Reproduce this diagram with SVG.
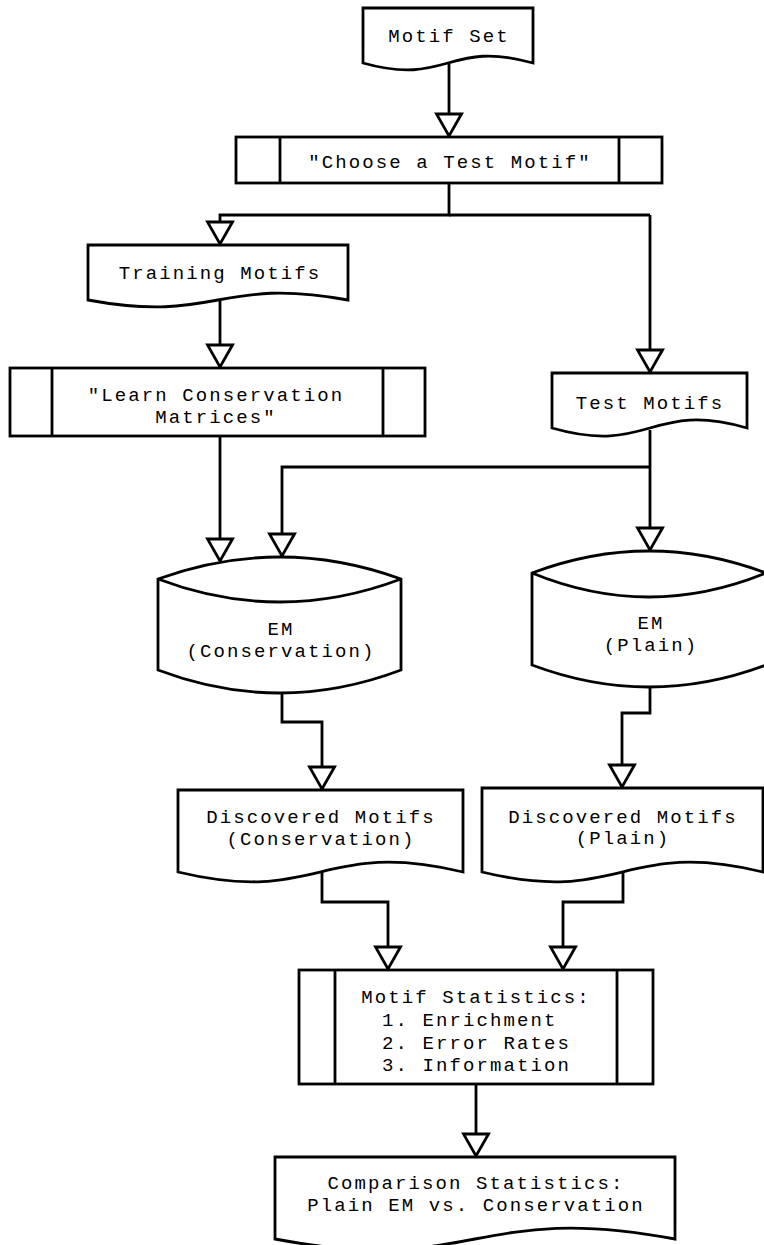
<svg xmlns="http://www.w3.org/2000/svg" width="764" height="1245" viewBox="0 0 764 1245">
<style>
.n{fill:#fff;stroke:#000;stroke-width:2.8;stroke-linejoin:miter}
.l{fill:none;stroke:#000;stroke-width:2.8}
.c{fill:none;stroke:#000;stroke-width:2.8;marker-end:url(#ah)}
text{font-family:"Liberation Mono","DejaVu Sans Mono",monospace;font-size:19px;letter-spacing:2.1px;fill:#000;text-anchor:middle}
.s{text-anchor:start}
</style>
<defs>
<marker id="ah" markerUnits="userSpaceOnUse" markerWidth="30" markerHeight="30" refX="22" refY="0" orient="auto" overflow="visible">
<path d="M0,-12.5 L22,0 L0,12.5 Z" fill="#fff" stroke="#000" stroke-width="2.8"/>
</marker>
</defs>
<rect width="764" height="1245" fill="#fff"/>
<g id="connectors">
<path class="c" d="M449,60 V136"/>
<path class="c" d="M449,183 V215 H220 V244"/>
<path class="l" d="M449,215 H650"/>
<path class="c" d="M650,215 V372"/>
<path class="c" d="M220,298 V367"/>
<path class="c" d="M220,436 V561"/>
<path class="c" d="M650,430 V550"/>
<path class="c" d="M650,467 H282 V556"/>
<path class="c" d="M282,690 V722 H322 V789"/>
<path class="c" d="M650,684 V713 H622 V787"/>
<path class="c" d="M322,870 V902 H388 V969"/>
<path class="c" d="M623,870 V902 H563 V969"/>
<path class="c" d="M476,1084 V1156"/>
</g>
<g id="motif-set">
<path class="n" d="M363,8 H533 V63 C448,39 448,87 363,63 Z"/>
<text x="449" y="42">Motif Set</text>
</g>
<g id="choose-test-motif">
<rect class="n" x="236" y="137" width="426" height="46"/>
<path class="l" d="M280,137 V183 M619,137 V183"/>
<text x="450" y="168">"Choose a Test Motif"</text>
</g>
<g id="training-motifs">
<path class="n" d="M88,245 H348 V300 C218,276 218,324 88,300 Z"/>
<text x="220" y="279">Training Motifs</text>
</g>
<g id="learn-conservation">
<rect class="n" x="10" y="368" width="415" height="68"/>
<path class="l" d="M52,368 V436 M383,368 V436"/>
<text x="216" y="401">"Learn Conservation</text>
<text x="216" y="423">Matrices"</text>
</g>
<g id="test-motifs">
<path class="n" d="M552,373 H747 V428 C650,400 650,456 552,428 Z"/>
<text x="650" y="409">Test Motifs</text>
</g>
<g id="em-conservation">
<path class="n" d="M158,579 Q279.5,535 401,579 V670 Q279.5,716 158,670 Z"/>
<path class="l" d="M158,579 Q279.5,625 401,579"/>
<text x="281" y="635">EM</text>
<text x="281" y="657">(Conservation)</text>
</g>
<g id="em-plain">
<path class="n" d="M532,573 Q649,529 766,573 V665 Q649,709 532,665 Z"/>
<path class="l" d="M532,573 Q649,621 766,573"/>
<text x="651" y="629">EM</text>
<text x="651" y="651">(Plain)</text>
</g>
<g id="discovered-conservation">
<path class="n" d="M178,790 H463 V872 C320,838 320,906 178,872 Z"/>
<text x="321" y="823">Discovered Motifs</text>
<text x="321" y="845">(Conservation)</text>
</g>
<g id="discovered-plain">
<path class="n" d="M482,788 H763 V872 C622,838 622,906 482,872 Z"/>
<text x="623" y="823">Discovered Motifs</text>
<text x="623" y="844">(Plain)</text>
</g>
<g id="motif-statistics">
<rect class="n" x="299" y="970" width="354" height="114"/>
<path class="l" d="M335,970 V1084 M617,970 V1084"/>
<text x="476" y="1003">Motif Statistics:</text>
<text class="s" x="382" y="1026">1. Enrichment</text>
<text class="s" x="382" y="1049">2. Error Rates</text>
<text class="s" x="382" y="1071">3. Information</text>
</g>
<g id="comparison-statistics">
<path class="n" d="M275,1157 H675 V1239 C475,1201 475,1277 275,1239 Z"/>
<text x="476" y="1189">Comparison Statistics:</text>
<text x="476" y="1211">Plain EM vs. Conservation</text>
</g>
</svg>
